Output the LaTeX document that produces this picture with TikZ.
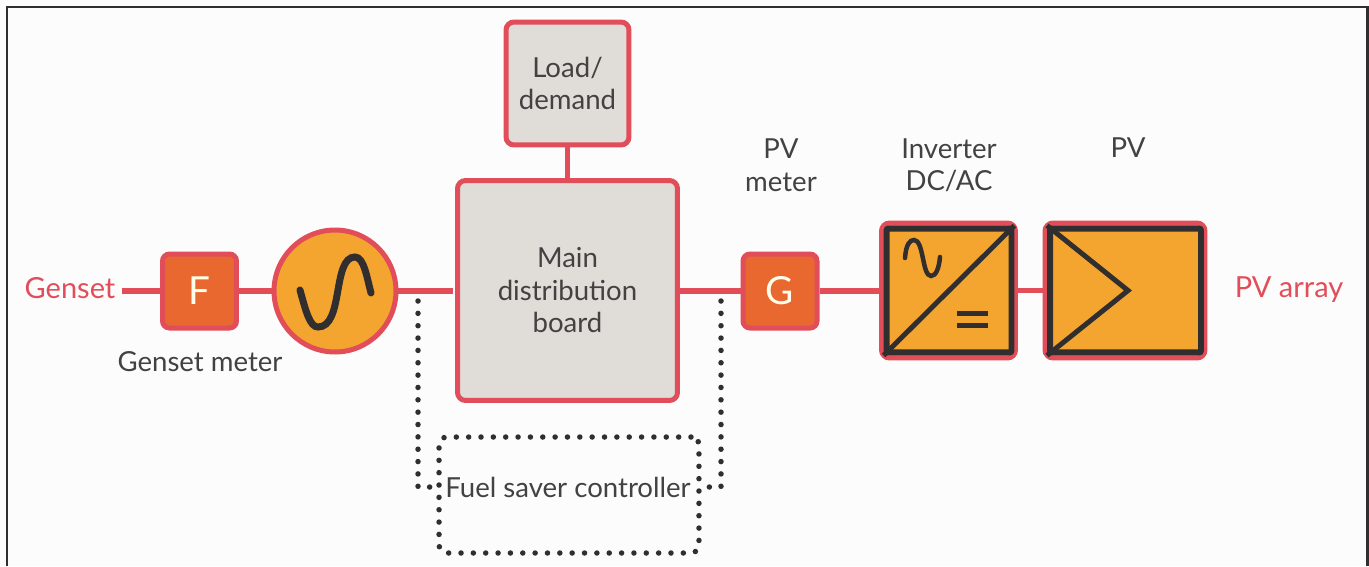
\documentclass[tikz,border=0pt]{standalone}
\usepackage{fontspec}
\setmainfont{Lato}
\definecolor{myred}{RGB}{225,78,90}
\definecolor{myorange}{RGB}{244,165,47}
\definecolor{mymeter}{RGB}{233,104,48}
\definecolor{mygray}{RGB}{224,220,215}
\definecolor{mydark}{RGB}{48,46,46}
\definecolor{mytext}{RGB}{66,66,66}
\tikzset{
    redbox/.style={draw=myred, line width=0.1cm, rounded corners=0.16cm, fill=mygray, align=center, text=mytext},
    meterbox/.style={draw=myred, line width=0.1cm, rounded corners=0.14cm, fill=mymeter, minimum width=1.48cm, minimum height=1.48cm, text=white!92!yellow, font=\fontsize{22}{24}\selectfont},
    darkbox/.style={draw=mydark, line width=0.12cm, rounded corners=0.04cm},
    wire/.style={draw=myred, line width=0.11cm},
    dotline/.style={draw=mydark, line width=0.11cm, line cap=round, dash pattern=on 0pt off 7.03pt},
    lbl/.style={text=mytext, align=center, font=\fontsize{15.7}{18.5}\selectfont},
    redlbl/.style={text=myred, font=\fontsize{16.5}{18.5}\selectfont},
}

\begin{document}
\begin{tikzpicture}[x=0.02cm, y=-0.02cm, font=\fontsize{15.7}{18.5}\selectfont]
    \useasboundingbox (0,0) rectangle (1369,566);
    \fill[white!99!black] (0,0) rectangle (1369,566);

    % Frame
    \draw[mydark, line width=0.05cm] (7,566) -- (7,7) -- (1367.5,7) -- (1367.5,566);

    % Main blocks
    \node[redbox, minimum width=2.46cm, minimum height=2.46cm] (load) at (567.5,83.5) {Load/\\demand};
    \node[redbox, minimum width=4.4cm, minimum height=4.4cm] (board) at (567.5,290.5) {Main\\distribution\\board};

    % Meters
    \node[meterbox] (fmeter) at (199.5,291) {F};
    \node[meterbox] (gmeter) at (780,291) {G};

    % Genset
    \node[circle, draw=myred, line width=0.1cm, fill=myorange, minimum size=2.44cm] (genset) at (335,291) {};
    \draw[mydark, line width=0.14cm, line cap=round] (300,290) .. controls (306,312) and (310,327) .. (318,327)
        .. controls (344,327) and (332,257) .. (355,257) .. controls (364,257) and (367,278) .. (371,293);

    % Inverter
    \node[redbox, fill=myorange, minimum width=2.68cm, minimum height=2.7cm] (inverter) at (948.5,290.5) {};
    \node[darkbox, minimum width=2.5cm, minimum height=2.48cm] (inverterin) at (949,290.5) {};
    \draw[mydark, line width=0.1cm] (inverterin.south west) -- (inverterin.north east);
    \draw[mydark, line width=0.09cm, line cap=round] (905,258) .. controls (906,244) and (910,240) .. (914,240)
        .. controls (924,240) and (922,276) .. (931,276) .. controls (936,276) and (939,268) .. (940,257);
    \draw[mydark, line width=0.1cm] (957,313) -- (988,313);
    \draw[mydark, line width=0.1cm] (957,325) -- (988,325);

    % PV block
    \node[redbox, fill=myorange, minimum width=3.2cm, minimum height=2.7cm] (pv) at (1125,290.5) {};
    \node[darkbox, minimum width=3.02cm, minimum height=2.48cm] (pvin) at (1125.5,290.5) {};
    \coordinate (apex) at (1128,290.5);
    \draw[mydark, line width=0.1cm, line join=miter] (pvin.north west) -- (apex) -- (pvin.south west);

    % Labels
    \node[redlbl, inner sep=0.12cm] (gensetlbl) at (70,288) {Genset};
    \node[redlbl] (pvarray) at (1289,290) {PV array};
    \node[lbl] (gensetmeter) at (200,362) {Genset meter};
    \node[lbl] (pvmeter) at (781,165) {PV\\meter};
    \node[lbl] (invlbl) at (949,165) {Inverter\\DC/AC};
    \node[lbl] (pvlbl) at (1128,148) {PV};

    % Wires
    \draw[wire] (gensetlbl.east |- fmeter) -- (fmeter);
    \draw[wire] (fmeter) -- (genset);
    \draw[wire, shorten >=0.05cm] (genset) -- (board.west |- genset);
    \draw[wire] (board.east |- gmeter) -- (gmeter);
    \draw[wire] (gmeter) -- (inverter.west |- gmeter);
    \draw[wire] (inverter.east) -- (pv.west);
    \draw[wire] (load) -- (board);

    % Fuel saver
    \node[dotline, rounded corners=0.16cm, minimum width=5.2cm, minimum height=2.32cm] (fuel) at (569,495) {};
    \node[lbl, inner sep=0.1cm] (fueltxt) at (568,487) {Fuel saver controller};
    \coordinate (fuelL) at (418,301);
    \coordinate (fuelR) at (721,301);
    \draw[dotline, shorten >=0.2cm] (fuelL) |- (fueltxt.west);
    \draw[dotline, shorten >=0.2cm] (fuelR) |- (fueltxt.east);
\end{tikzpicture}
\end{document}
